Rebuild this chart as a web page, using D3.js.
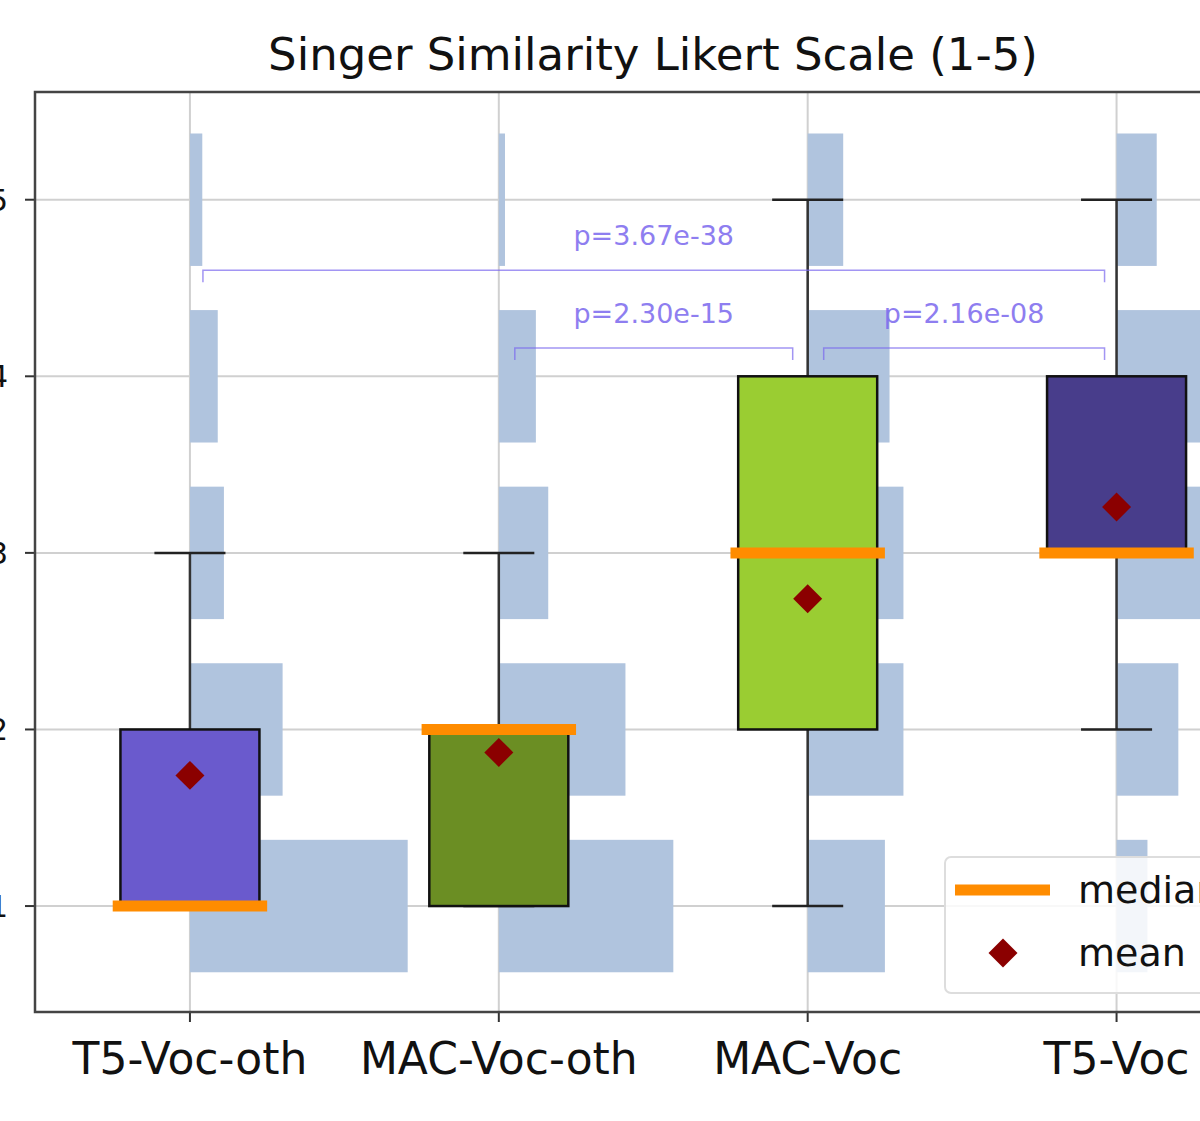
<!DOCTYPE html>
<html><head><meta charset="utf-8">
<script src="https://cdn.jsdelivr.net/npm/d3@7/dist/d3.min.js"></script>
<style>body{margin:0;background:#fff}</style></head>
<body><svg id="c" width="1200" height="1121"></svg>
<script>
const categories=["T5-Voc-oth","MAC-Voc-oth","MAC-Voc","T5-Voc"];
const boxColors=["#6a5acd","#6b8e23","#9acd32","#483d8b"];
const q1=[1,1,2,3], q3=[2,2,4,4], medians=[1,2,3,3], means=[1.74,1.87,2.74,3.26];
const whiskLo=[1,1,1,2], whiskHi=[3,3,5,5];
const likert=[1,2,3,4,5];
const hist=[[0.705,0.30,0.11,0.09,0.04],[0.565,0.41,0.16,0.12,0.02],[0.25,0.31,0.31,0.265,0.115],[0.10,0.20,0.45,0.45,0.13]];
const yTicks=[1,2,3,4,5];
const pvals=[{a:0,b:3,lvl:4.6,t:"p=3.67e-38"},{a:1,b:2,lvl:4.16,t:"p=2.30e-15"},{a:2,b:3,lvl:4.16,t:"p=2.16e-08"}];

const svg=d3.select("#c");
const x=d3.scaleLinear().domain([0.5,4.5]).range([35.5,1271]);
const y=d3.scaleLinear().domain([0.4,5.61]).range([1012,92]);
const g=svg.append("g");
g.selectAll(".gy").data(yTicks).join("line").attr("x1",35).attr("x2",1200).attr("y1",d=>y(d)).attr("y2",d=>y(d)).attr("stroke","#d0d0d0").attr("stroke-width",2);
g.selectAll(".gx").data(categories).join("line").attr("x1",(d,i)=>x(i+1)).attr("x2",(d,i)=>x(i+1)).attr("y1",92).attr("y2",1012).attr("stroke","#d0d0d0").attr("stroke-width",2);
hist.forEach((h,i)=>{g.selectAll(null).data(h).join("rect").attr("x",x(i+1)).attr("width",d=>x(i+1+d)-x(i+1))
 .attr("y",(d,j)=>y(likert[j]+0.375)).attr("height",(d,j)=>y(likert[j]-0.375)-y(likert[j]+0.375)).attr("fill","#b0c4de");});
const hw=0.225, cw=0.115, mw=0.25;
const diamond=d3.symbol(d3.symbolSquare,420)();
categories.forEach((c,i)=>{const cx=x(i+1);
 g.append("line").attr("x1",cx).attr("x2",cx).attr("y1",y(whiskHi[i])).attr("y2",y(q3[i])).attr("stroke","#333").attr("stroke-width",2.5);
 g.append("line").attr("x1",cx).attr("x2",cx).attr("y1",y(whiskLo[i])).attr("y2",y(q1[i])).attr("stroke","#333").attr("stroke-width",2.5);
 [whiskLo[i],whiskHi[i]].forEach(v=>g.append("line").attr("x1",x(i+1-cw)).attr("x2",x(i+1+cw)).attr("y1",y(v)).attr("y2",y(v)).attr("stroke","#222").attr("stroke-width",2.5));
 g.append("rect").attr("x",x(i+1-hw)).attr("width",x(i+1+hw)-x(i+1-hw)).attr("y",y(q3[i])).attr("height",y(q1[i])-y(q3[i])).attr("fill",boxColors[i]).attr("stroke","#111").attr("stroke-width",2.5);
 g.append("line").attr("x1",x(i+1-mw)).attr("x2",x(i+1+mw)).attr("y1",y(medians[i])).attr("y2",y(medians[i])).attr("stroke","#ff8c00").attr("stroke-width",11);
 g.append("path").attr("d",diamond).attr("transform",`translate(${cx},${y(means[i])}) rotate(45)`).attr("fill","#8b0000");
});
const pc="#7b68ee";
pvals.forEach(p=>{const x1=x(p.a+1)+(p.a==0?13:16),x2=x(p.b+1)-(p.b==3?12:15),yy=y(p.lvl);
 g.append("path").attr("d",`M${x1},${yy+12}L${x1},${yy}L${x2},${yy}L${x2},${yy+12}`).attr("fill","none").attr("stroke",pc).attr("stroke-width",1.5).attr("opacity",0.7);
 g.append("text").attr("x",(x1+x2)/2).attr("y",yy-25).attr("text-anchor","middle").attr("font-family","DejaVu Sans").attr("font-size",27).attr("fill",pc).attr("opacity",0.85).text(p.t);
});
svg.append("path").attr("d","M1200,92L35,92L35,1012L1200,1012").attr("fill","none").attr("stroke","#444").attr("stroke-width",2.5);
g.selectAll(".xt").data(categories).join("line").attr("x1",(d,i)=>x(i+1)).attr("x2",(d,i)=>x(i+1)).attr("y1",1012).attr("y2",1022).attr("stroke","#333").attr("stroke-width",2);
g.selectAll(".xl").data(categories).join("text").attr("x",(d,i)=>x(i+1)).attr("y",1074).attr("text-anchor","middle").attr("font-family","DejaVu Sans").attr("font-size",44).attr("fill","#111").text(d=>d);
g.selectAll(".yt").data(yTicks).join("line").attr("x1",25).attr("x2",35).attr("y1",d=>y(d)).attr("y2",d=>y(d)).attr("stroke","#333").attr("stroke-width",2);
g.selectAll(".yl").data(yTicks).join("text").attr("x",8).attr("y",d=>y(d)+11).attr("text-anchor","end").attr("font-family","DejaVu Sans").attr("font-size",30).attr("fill","#111").text(d=>d);
svg.append("text").attr("x",653).attr("y",70).attr("text-anchor","middle").attr("font-family","DejaVu Sans").attr("font-size",45).attr("fill","#111").text("Singer Similarity Likert Scale (1-5)");
const lg=svg.append("g");
lg.append("rect").attr("x",945).attr("y",857).attr("width",280).attr("height",136).attr("rx",6).attr("fill","#fff").attr("fill-opacity",0.85).attr("stroke","#ddd").attr("stroke-width",2);
lg.append("line").attr("x1",955).attr("x2",1050).attr("y1",890).attr("y2",890).attr("stroke","#ff8c00").attr("stroke-width",11);
lg.append("path").attr("d",diamond).attr("transform","translate(1003,953) rotate(45)").attr("fill","#8b0000");
lg.append("text").attr("x",1078).attr("y",903).attr("font-family","DejaVu Sans").attr("font-size",38).attr("fill","#111").text("median");
lg.append("text").attr("x",1078).attr("y",966).attr("font-family","DejaVu Sans").attr("font-size",38).attr("fill","#111").text("mean");
</script></body></html>
